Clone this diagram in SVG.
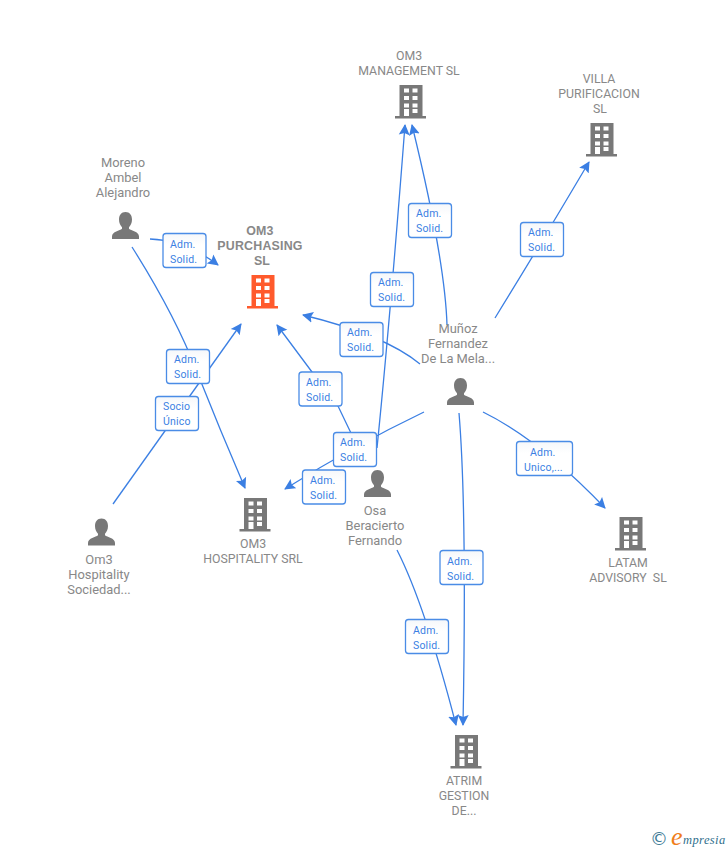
<svg xmlns="http://www.w3.org/2000/svg" width="728" height="850" viewBox="0 0 728 850">
<style>
.e{fill:none;stroke:#3b7fe3;stroke-width:1.3;}
.a{marker-end:url(#ah);}
.b{fill:url(#bg);stroke:#4a8ce6;stroke-width:1.3;}
.bt{font:10.5px Roboto,"Liberation Sans",Arial,sans-serif;fill:#3b7fe3;letter-spacing:.2px;}
.n{font:12.300px Roboto,"Liberation Sans",Arial,sans-serif;fill:#888;text-anchor:middle;}
.l{font:12.900px Roboto,"Liberation Sans",Arial,sans-serif;fill:#888;text-anchor:middle;}
.p{font:bold 12.400px "Liberation Sans",Arial,sans-serif;fill:#888;text-anchor:middle;letter-spacing:.2px;}
.g{fill:#787878;}
.o{fill:#ff5a2c;}
</style>
<defs>
<linearGradient id="bg" x1="0" y1="0" x2="0" y2="1"><stop offset="0" stop-color="#f5f7fa"/><stop offset=".35" stop-color="#fff"/></linearGradient>
<marker id="ah" markerUnits="userSpaceOnUse" markerWidth="13" markerHeight="13" refX="10" refY="5.500" orient="auto" viewBox="0 0 13 11"><path d="M0,0 L11,5.500 L0,11 L2,5.500z" fill="#3b7fe3"/></marker>
<path id="bd" fill-rule="evenodd" d="M4.500,0H27.500V31H31V33.500H0V31H4.500ZM9,3.500V7.500H14V3.500ZM17.500,3.500V7.500H22.500V3.500ZM9,11V15H14V11ZM17.500,11V15H22.500V11ZM9,18.500V22.500H14V18.500ZM17.500,18.500V22.500H22.500V18.500ZM9,24V31H14V24ZM17.500,24V28H22.500V24Z"/>
<path id="pn" d="M13.500,0C17.800,0 20,3.200 20,7.500C20,11 18.600,13.600 17,15.200V16.800C19,18.600 27,19.500 27,24.500V27H0V24.500C0,19.500 8,18.600 10,16.800V15.200C8.400,13.600 7,11 7,7.500C7,3.200 9.200,0 13.500,0Z"/>
</defs>
<g id="connectors">
<path class="e a" d="M150,239Q185,240 218,265"/>
<path class="e a" d="M132,247Q175,315 197,372Q220,430 245,488"/>
<path class="e a" d="M113,504L241,324"/>
<path class="e a" d="M420,364Q385,335 303,315"/>
<path class="e a" d="M362,456L338,406L312,372L277,325"/>
<path class="e a" d="M424,412Q355,445 285,489"/>
<path class="e a" d="M377,448Q390,320 405,125"/>
<path class="e a" d="M447,325Q445,260 412,125"/>
<path class="e a" d="M495,318Q540,245 589,162"/>
<path class="e a" d="M483,412Q540,440 605,508"/>
<path class="e a" d="M459,413Q467,510 463,725"/>
<path class="e a" d="M397,550Q425,605 456,725"/>
</g>
<g id="edge-labels">
<g><rect class="b" x="163" y="233.500" width="43" height="34" rx="3"/><text class="bt" x="170" y="248">Adm.</text><text class="bt" x="170" y="263">Solid.</text></g>
<g><rect class="b" x="166.500" y="349.500" width="43" height="34" rx="3"/><text class="bt" x="174" y="363">Adm.</text><text class="bt" x="174" y="378">Solid.</text></g>
<g><rect class="b" x="155.500" y="396.500" width="43" height="34" rx="3"/><text class="bt" x="163" y="410">Socio</text><text class="bt" x="163" y="425">Único</text></g>
<g><rect class="b" x="340" y="322.500" width="43" height="34" rx="3"/><text class="bt" x="347" y="336">Adm.</text><text class="bt" x="347" y="351">Solid.</text></g>
<g><rect class="b" x="299" y="372" width="43" height="34" rx="3"/><text class="bt" x="306" y="386">Adm.</text><text class="bt" x="306" y="401">Solid.</text></g>
<g><rect class="b" x="333.500" y="432.500" width="43" height="34" rx="3"/><text class="bt" x="340" y="446">Adm.</text><text class="bt" x="340" y="461">Solid.</text></g>
<g><rect class="b" x="302.500" y="470" width="43" height="34" rx="3"/><text class="bt" x="310" y="484">Adm.</text><text class="bt" x="310" y="499">Solid.</text></g>
<g><rect class="b" x="370.500" y="272.500" width="43" height="34" rx="3"/><text class="bt" x="378" y="286">Adm.</text><text class="bt" x="378" y="301">Solid.</text></g>
<g><rect class="b" x="408.500" y="203.500" width="43" height="34" rx="3"/><text class="bt" x="416" y="217">Adm.</text><text class="bt" x="416" y="232">Solid.</text></g>
<g><rect class="b" x="520.500" y="222.500" width="43" height="34" rx="3"/><text class="bt" x="528" y="236">Adm.</text><text class="bt" x="528" y="251">Solid.</text></g>
<g><rect class="b" x="516.500" y="441.500" width="56" height="34" rx="3"/><text class="bt" x="530" y="456">Adm.</text><text class="bt" x="524" y="471">Unico,...</text></g>
<g><rect class="b" x="440" y="550.500" width="43" height="34" rx="3"/><text class="bt" x="447" y="565">Adm.</text><text class="bt" x="447" y="580">Solid.</text></g>
<g><rect class="b" x="405.500" y="619.500" width="43" height="34" rx="3"/><text class="bt" x="413" y="634">Adm.</text><text class="bt" x="413" y="649">Solid.</text></g>
</g>
<g id="n-moreno"><text class="l" x="123" y="167">Moreno</text><text class="l" x="123" y="182">Ambel</text><text class="l" x="123" y="197">Alejandro</text><use href="#pn" class="g" x="112" y="212"/></g>
<g id="n-purchasing"><text class="p" x="260" y="235">OM3</text><text class="p" x="260" y="250">PURCHASING</text><text class="p" x="262" y="265">SL</text><use href="#bd" class="o" x="247" y="275"/></g>
<g id="n-management"><text class="n" x="409" y="60">OM3</text><text class="n" x="409" y="75">MANAGEMENT SL</text><use href="#bd" class="g" x="395" y="85"/></g>
<g id="n-villa"><text class="n" x="599" y="83">VILLA</text><text class="n" x="599" y="98">PURIFICACION</text><text class="n" x="600" y="113">SL</text><use href="#bd" class="g" x="586" y="123"/></g>
<g id="n-munoz"><text class="l" x="458" y="333">Muñoz</text><text class="l" x="458" y="348">Fernandez</text><text class="l" x="458" y="363">De La Mela...</text><use href="#pn" class="g" x="447" y="378"/></g>
<g id="n-osa"><use href="#pn" class="g" x="364" y="470"/><text class="l" x="375" y="515">Osa</text><text class="l" x="375" y="530">Beracierto</text><text class="l" x="375" y="545">Fernando</text></g>
<g id="n-om3hosp"><use href="#pn" class="g" x="88" y="518.500"/><text class="l" x="99" y="564">Om3</text><text class="l" x="99" y="579">Hospitality</text><text class="l" x="99" y="594">Sociedad...</text></g>
<g id="n-hospitality"><use href="#bd" class="g" x="239.500" y="498"/><text class="n" x="253" y="548">OM3</text><text class="n" x="253" y="563">HOSPITALITY SRL</text></g>
<g id="n-latam"><use href="#bd" class="g" x="615" y="517"/><text class="n" x="628" y="567">LATAM</text><text class="n" x="628" y="582" xml:space="preserve">ADVISORY  SL</text></g>
<g id="n-atrim"><use href="#bd" class="g" x="450.500" y="735"/><text class="n" x="464" y="785">ATRIM</text><text class="n" x="464" y="800">GESTION</text><text class="n" x="464" y="815">DE...</text></g>
<g id="logo"><text x="650" y="845" font-family="'DejaVu Sans',sans-serif" font-size="18" fill="#3f7c96">©</text><text x="671" y="845" font-family="'Liberation Serif',serif" font-style="italic" font-size="26" fill="#f07d1a">e</text><text x="683" y="844" font-family="'Liberation Serif',serif" font-style="italic" font-size="12.500" fill="#2f6f8c" letter-spacing=".4">mpresia</text></g>
</svg>
